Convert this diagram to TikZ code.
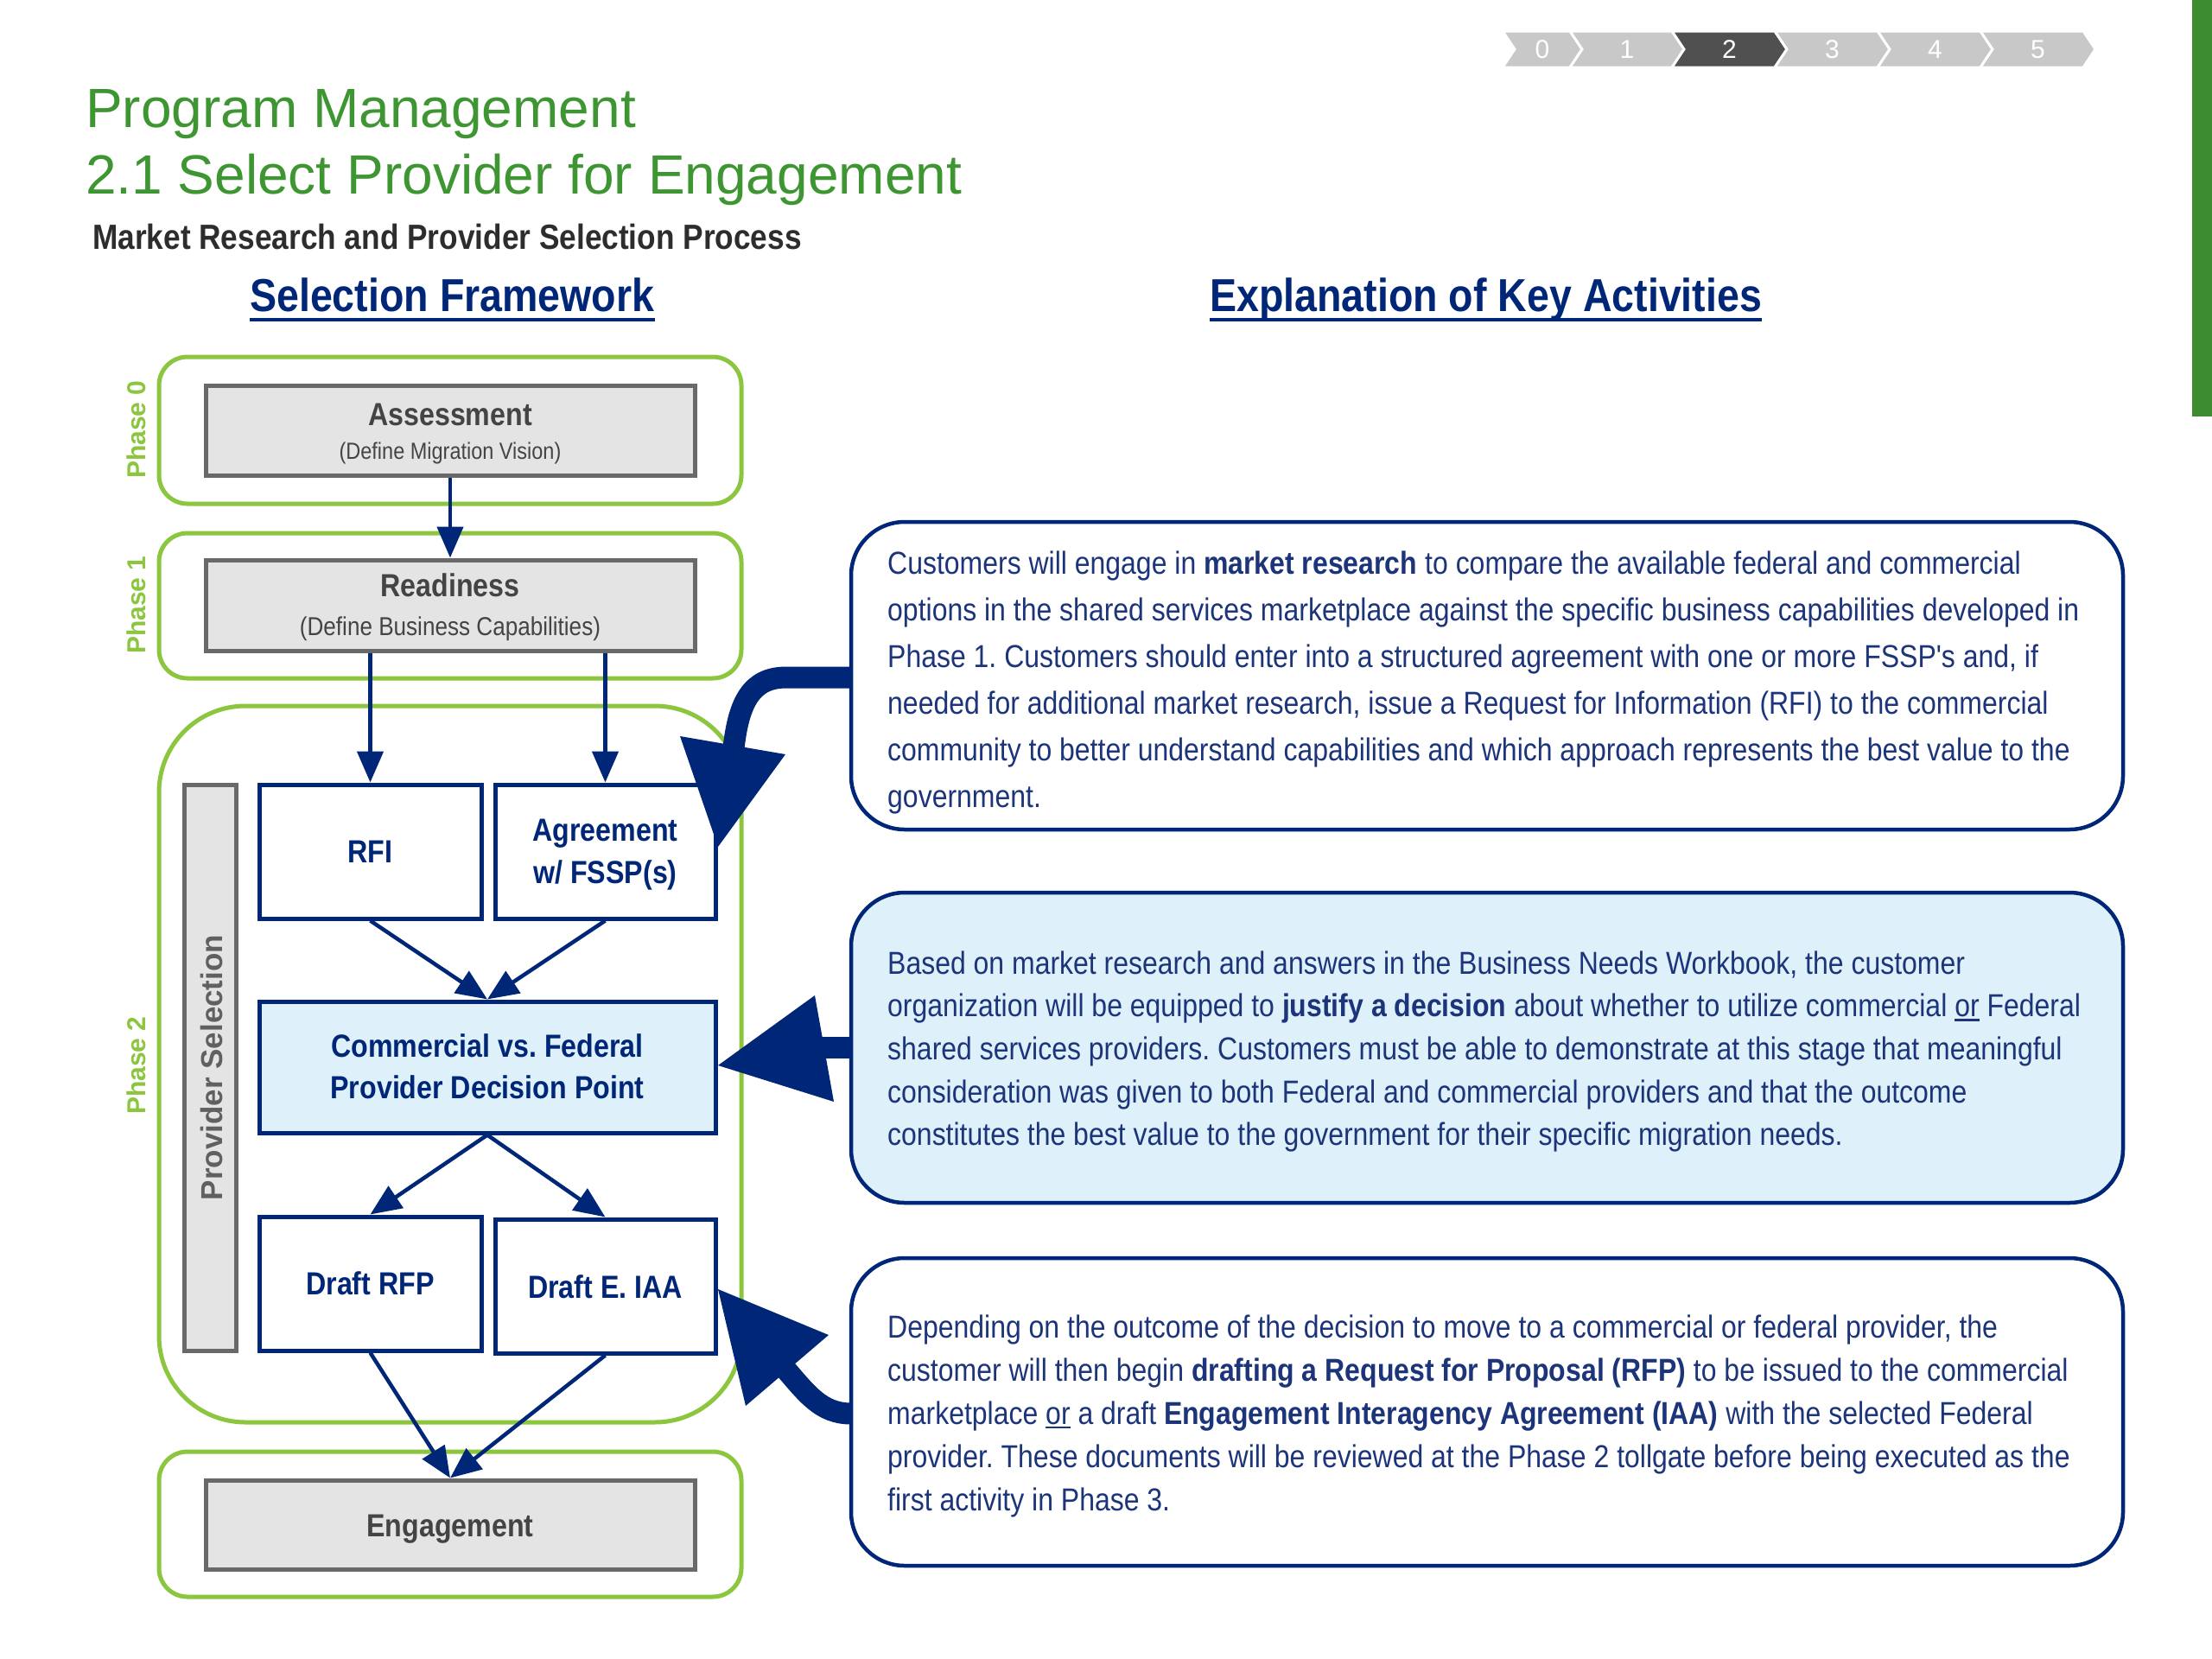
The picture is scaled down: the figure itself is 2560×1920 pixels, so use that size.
\documentclass[tikz,border=0pt]{standalone}
\usepackage{fontspec}
\setmainfont{Liberation Sans}
\newfontfamily\narrowf[FakeStretch=0.87]{Liberation Sans}
\usetikzlibrary{arrows.meta,calc}
\definecolor{titlegreen}{RGB}{62,150,50}
\definecolor{lime}{RGB}{140,198,63}
\definecolor{navy}{RGB}{0,38,120}
\definecolor{textblue}{RGB}{28,52,122}
\definecolor{lightblue}{RGB}{222,240,249}
\definecolor{boxgray}{RGB}{228,228,228}
\definecolor{edgegray}{RGB}{105,105,105}
\definecolor{labelgray}{RGB}{68,68,68}
\definecolor{subgray}{RGB}{45,45,45}
\definecolor{chev}{RGB}{200,200,200}
\definecolor{chevdark}{RGB}{80,80,80}
\definecolor{bargreen}{RGB}{62,140,48}
\newcommand{\ulor}[1]{\setbox0\hbox{#1}\rlap{\rule[-5pt]{\wd0}{2.5pt}}#1}
\frenchspacing
\tikzset{
 phasebox/.style={draw=lime, line width=5pt, rounded corners=33pt, inner sep=0},
 graybox/.style={draw=edgegray, fill=boxgray, line width=5pt, inner sep=0},
 bluebox/.style={draw=navy, fill=white, line width=5pt, inner sep=0},
 flow/.style={draw=navy, line width=4.5pt, -{Triangle[length=36pt,width=30pt]}},
 textbox/.style={draw=navy, line width=4.5pt, rounded corners=62pt, inner sep=0},
 boxlabel/.style={anchor=base, inner sep=0, font=\narrowf\bfseries\fontsize{37}{37}\selectfont},
 boxsub/.style={anchor=base, inner sep=0, text=labelgray, font=\narrowf\fontsize{27}{27}\selectfont},
 phaselabel/.style={rotate=90, inner sep=0, text=lime, font=\bfseries\fontsize{30}{30}\selectfont},
 bodyline/.style={anchor=base west, inner sep=0, text=textblue, font=\narrowf\frenchspacing\fontsize{36.75}{36.75}\selectfont},
 bigarrow/.style={draw=navy, line width=25pt},
 chevnum/.style={text=white, font=\fontsize{30}{30}\selectfont, inner sep=0},
}
\begin{document}
\begin{tikzpicture}[x=1pt,y=-1pt]
\useasboundingbox (0,0) rectangle (2560,1920);
\fill[white] (0,0) rectangle (2560,1920);

% progress chevrons
\foreach \a/\b/\n/\c in {1739/1817/0/chev, 1817/1935/1/chev, 1935/2054/2/chevdark, 2054/2173/3/chev, 2173/2292/4/chev, 2292/2411/5/chev} {
  \filldraw[fill=\c, draw=white, line width=3pt, line join=miter] (\a,36) -- (\b,36) -- (\b+14,57) -- (\b,78) -- (\a,78) -- (\a+14,57) -- cycle;
  \node[chevnum] (chev\n) at ({(\a+\b)/2+7},57) {\n};
}
% green bar
\fill[bargreen] (2537,0) rectangle (2560,482);

% titles
\node[anchor=base west, inner sep=0, text=titlegreen, font=\fontsize{64}{64}\selectfont] (title1) at (99,147) {Program Management};
\node[anchor=base west, inner sep=0, text=titlegreen, font=\fontsize{64}{64}\selectfont] (title2) at (99,224) {2.1 Select Provider for Engagement};
\node[anchor=base west, inner sep=0, text=subgray, font=\narrowf\bfseries\fontsize{40.5}{40.5}\selectfont] (sub) at (107,288) {Market Research and Provider Selection Process};
\node[anchor=base west, inner sep=0, text=navy, font=\narrowf\bfseries\fontsize{53.5}{53.5}\selectfont] (sf) at (289,360) {Selection Framework};
\draw[navy, line width=4pt] ($(sf.base west)+(0,10)$) -- ($(sf.base east)+(0,10)$);
\node[anchor=base west, inner sep=0, text=navy, font=\narrowf\bfseries\fontsize{53.5}{53.5}\selectfont] (ek) at (1400,360) {Explanation of Key Activities};
\draw[navy, line width=4pt] ($(ek.base west)+(0,10)$) -- ($(ek.base east)+(0,10)$);

% phase frames
\node[phasebox, minimum width=674pt, minimum height=170pt] (ph0) at (521,498) {};
\node[phasebox, minimum width=674pt, minimum height=168pt] (ph1) at (521,701) {};
\node[phasebox, rounded corners=100pt, minimum width=674pt, minimum height=829pt] (ph2) at (521,1231.5) {};
\node[phasebox, minimum width=674pt, minimum height=168pt] (ph3) at (521,1764) {};
\node[phaselabel] (lab0) at (158,497) {Phase 0};
\node[phaselabel] (lab1) at (158,700) {Phase 1};
\node[phaselabel] (lab2) at (158,1233) {Phase 2};

% gray boxes
\node[graybox, minimum width=566pt, minimum height=104pt] (assess) at (521,498) {};
\node[boxlabel, text=labelgray] (assessT) at (521,492) {Assessment};
\node[boxsub] (assessS) at (521,531) {(Define Migration Vision)};
\node[graybox, minimum width=566pt, minimum height=105pt] (ready) at (521,700.5) {};
\node[boxlabel, text=labelgray] (readyT) at (521,690) {Readiness};
\node[boxsub, font=\narrowf\fontsize{30}{30}\selectfont] (readyS) at (521,735) {(Define Business Capabilities)};
\node[graybox, minimum width=566pt, minimum height=103pt] (eng) at (521,1764.5) {};
\node[boxlabel, text=labelgray] (engT) at (521,1778) {Engagement};

% provider selection bar
\node[graybox, minimum width=60pt, minimum height=655pt] (psbar) at (243,1235.5) {};
\node[rotate=90, inner sep=0, text=labelgray!85, font=\bfseries\fontsize{35}{35}\selectfont] (psT) at (245,1235.5) {Provider Selection};

% blue boxes
\node[bluebox, minimum width=257pt, minimum height=155pt] (rfi) at (428.5,985.5) {};
\node[boxlabel, text=navy] (rfiT) at (428.5,998) {RFI};
\node[bluebox, minimum width=255pt, minimum height=155pt] (agr) at (700.5,985.5) {};
\node[boxlabel, text=navy] (agrT1) at (700.5,973) {Agreement};
\node[boxlabel, text=navy] (agrT2) at (700.5,1022) {w/ FSSP(s)};
\node[bluebox, fill=lightblue, minimum width=528pt, minimum height=152pt] (cvf) at (564,1235) {};
\node[boxlabel, text=navy] (cvfT1) at (564,1223) {Commercial vs. Federal};
\node[boxlabel, text=navy] (cvfT2) at (564,1271) {Provider Decision Point};
\node[bluebox, minimum width=257pt, minimum height=155pt] (drfp) at (428.5,1485.5) {};
\node[boxlabel, text=navy] (drfpT) at (428.5,1498) {Draft RFP};
\node[bluebox, minimum width=255pt, minimum height=155pt] (diaa) at (700.5,1488.5) {};
\node[boxlabel, text=navy] (diaaT) at (700.5,1502) {Draft E. IAA};

% flow arrows
\draw[flow] (assess.south) -- (ready.north);
\draw[flow] (ready.south -| rfi.north) -- (rfi.north);
\draw[flow] (ready.south -| agr.north) -- (agr.north);
\draw[flow] (rfi.south) -- (cvf.north);
\draw[flow] (agr.south) -- (cvf.north);
\draw[flow] (cvf.south) -- (drfp.north);
\draw[flow] (cvf.south) -- (diaa.north);
\draw[flow] (drfp.south) -- (eng.north);
\draw[flow] (diaa.south) -- (eng.north);

% explanation boxes
\node[textbox, fill=white, minimum width=1472pt, minimum height=356pt] (box1) at (1721,782) {};
\node[textbox, fill=lightblue, minimum width=1472pt, minimum height=359pt] (box2) at (1721,1212.5) {};
\node[textbox, fill=white, minimum width=1472pt, minimum height=356pt] (box3) at (1721,1634) {};

% callout arrows
\coordinate (c1s) at (985,784);
\coordinate (c1t) at (831,980);
\draw[bigarrow] (c1s) -- (910,784) .. controls (870,784) and (855,812) .. (849,866);
\fill[navy] (787,852) -- (909,873) -- (c1t) -- cycle;
\coordinate (c2s) at (985,1212);
\coordinate (c2t) at (831,1233);
\draw[bigarrow] (c2s) -- (948,1212);
\fill[navy] (943,1152) -- (965,1275) -- (c2t) -- cycle;
\coordinate (c3s) at (985,1636);
\coordinate (c3t) at (831,1492);
\draw[bigarrow] (c3s) .. controls (950,1636) and (934,1613) .. (907,1582);
\fill[navy] (959,1545) -- (863,1627) -- (c3t) -- cycle;

% box texts
\foreach \txt [count=\i] in {
 {Customers will engage in \textbf{market research} to compare the available federal and commercial},
 {options in the shared services marketplace against the specific business capabilities developed in},
 {Phase 1. Customers should enter into a structured agreement with one or more FSSP's and, if},
 {needed for additional market research, issue a Request for Information (RFI) to the commercial},
 {community to better understand capabilities and which approach represents the best value to the},
 {government.}}
 \node[bodyline] (b1l\i) at (1027,{664+54*(\i-1)}) {\txt};
\foreach \txt [count=\i] in {
 {Based on market research and answers in the Business Needs Workbook, the customer},
 {organization will be equipped to \textbf{justify a decision} about whether to utilize commercial \ulor{or} Federal},
 {shared services providers. Customers must be able to demonstrate at this stage that meaningful},
 {consideration was given to both Federal and commercial providers and that the outcome},
 {constitutes the best value to the government for their specific migration needs.}}
 \node[bodyline] (b2l\i) at (1027,{1127+49.7*(\i-1)}) {\txt};
\foreach \txt [count=\i] in {
 {Depending on the outcome of the decision to move to a commercial or federal provider, the},
 {customer will then begin \textbf{drafting a Request for Proposal (RFP)} to be issued to the commercial},
 {marketplace \ulor{or} a draft \textbf{Engagement Interagency Agreement (IAA)} with the selected Federal},
 {provider. These documents will be reviewed at the Phase 2 tollgate before being executed as the},
 {first activity in Phase 3.}}
 \node[bodyline] (b3l\i) at (1027,{1548+50*(\i-1)}) {\txt};
\end{tikzpicture}
\end{document}
